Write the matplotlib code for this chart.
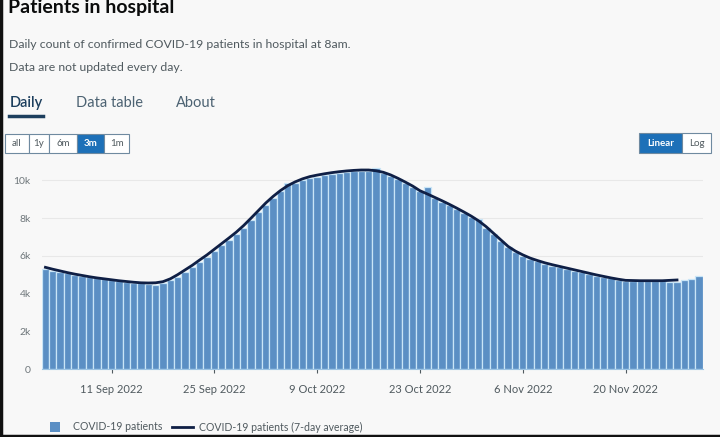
import matplotlib.pyplot as plt
import matplotlib.dates as mdates
from matplotlib.patches import Rectangle
from matplotlib.lines import Line2D
import pandas as pd

plt.rcParams["font.family"] = ["Lato", "DejaVu Sans"]

start_date = "2022-09-02"

# daily count of patients (2 Sep - 30 Nov 2022)
patients = [
    5300, 5220, 5150, 5070, 5000, 4930, 4860, 4800, 4750, 4700,
    4650, 4620, 4580, 4550, 4530, 4430, 4560, 4720, 4900, 5150,
    5400, 5680, 5950, 6250, 6550, 6850, 7150, 7500, 7900, 8300,
    8700, 9050, 9420, 9850, 9880, 10020, 10130, 10200, 10270, 10330,
    10400, 10450, 10480, 10500, 10520, 10660, 10400, 10250, 10050, 9850,
    9650, 9420, 9670, 9050, 8850, 8680, 8480, 8280, 8050, 7970,
    7500, 7150, 6800, 6450, 6200, 6000, 5830, 5700, 5580, 5480,
    5400, 5300, 5210, 5120, 5040, 4950, 4870, 4800, 4730, 4680,
    4660, 4650, 4660, 4650, 4640, 4630, 4620, 4700, 4780, 4910,
]

# 7-day average (ends 27 Nov)
avg_7day = [
    5390, 5290, 5200, 5110, 5030, 4960, 4890, 4830, 4780, 4730,
    4680, 4640, 4600, 4570, 4560, 4570, 4630, 4780, 5000, 5250,
    5500, 5780, 6050, 6350, 6650, 6950, 7260, 7610, 8000, 8400,
    8800, 9150, 9460, 9720, 9920, 10080, 10200, 10280, 10350, 10410,
    10460, 10500, 10530, 10550, 10550, 10510, 10430, 10290, 10110, 9910,
    9700, 9450, 9280, 9100, 8920, 8730, 8530, 8320, 8100, 7850,
    7550, 7200, 6850, 6500, 6250, 6050, 5880, 5750, 5630, 5530,
    5440, 5350, 5260, 5170, 5080, 4990, 4910, 4830, 4760, 4700,
    4690, 4680, 4680, 4680, 4680, 4700, 4720,
]

tick_dates = ["2022-09-11", "2022-09-25", "2022-10-09", "2022-10-23",
              "2022-11-06", "2022-11-20"]
y_ticks = [0, 2000, 4000, 6000, 8000, 10000]
y_labels = ["0", "2k", "4k", "6k", "8k", "10k"]

dates = pd.date_range(start_date, periods=len(patients))
avg_dates = dates[:len(avg_7day)]

bg = "#f8f8f8"
bar_col = "#5b8fc4"
line_col = "#0f1f45"

fig = plt.figure(figsize=(7.2, 4.37), dpi=100, facecolor=bg)
ax = fig.add_axes([0.058, 0.1556, 0.918, 0.4705], facecolor=bg)

ax.bar(dates, patients, width=1.0, color=bar_col, edgecolor="#c9e5f7",
       linewidth=0.9, zorder=2)
ax.plot(avg_dates, avg_7day, color=line_col, linewidth=2, zorder=3)

ax.set_xlim(dates[0] - pd.Timedelta(hours=12), dates[-1] + pd.Timedelta(hours=12))
ax.set_ylim(0, 10900)
ax.set_yticks(y_ticks)
ax.set_yticklabels(y_labels)
ax.set_xticks(pd.to_datetime(tick_dates))
ax.xaxis.set_major_formatter(mdates.DateFormatter("%-d %b %Y"))
ax.grid(axis="y", color="#e8e8e8", linewidth=0.8, zorder=0)
for s in ["top", "right", "left"]:
    ax.spines[s].set_visible(False)
ax.spines["bottom"].set_color("#9cc4e4")
ax.tick_params(axis="y", length=0, labelsize=7.5, labelcolor="#6f777b", pad=8)
ax.tick_params(axis="x", length=3, color="#505a5f", labelsize=8,
               labelcolor="#505a5f", pad=8)

# header (cut off at the top, as in the screenshot)
fig.text(0.011, 0.983, "Patients in hospital", fontsize=14, fontweight="bold",
         color="#0b0c0c", va="center")
fig.text(0.013, 0.899, "Daily count of confirmed COVID-19 patients in hospital at 8am.",
         fontsize=8.8, color="#505a5f", va="center")
fig.text(0.013, 0.846, "Data are not updated every day.",
         fontsize=8.8, color="#505a5f", va="center")

# tabs
fig.text(0.013, 0.764, "Daily", fontsize=10.5, color="#1d3f5e", va="center",
         fontweight="semibold")
fig.text(0.105, 0.764, "Data table", fontsize=10.5, color="#4c6272", va="center")
fig.text(0.245, 0.764, "About", fontsize=10.5, color="#4c6272", va="center")
fig.add_artist(Line2D([0.013, 0.06], [0.735, 0.735], color="#1d3f5e",
                      linewidth=2.5, transform=fig.transFigure))

# range buttons
def button_group(labels, edges, y0, y1, selected):
    for i, lab in enumerate(labels):
        x0, x1 = edges[i] / 720, edges[i + 1] / 720
        fc = "#1d70b8" if i == selected else "white"
        tc = "white" if i == selected else "#505a5f"
        fig.add_artist(Rectangle((x0, y0 / 437), x1 - x0, (y1 - y0) / 437,
                                 facecolor=fc, edgecolor="#6f8aa0", linewidth=0.8,
                                 transform=fig.transFigure))
        fig.text((x0 + x1) / 2, (y0 + y1) / 2 / 437, lab, fontsize=7,
                 color=tc, ha="center", va="center",
                 fontweight="bold" if i == selected else "normal")

button_group(["all", "1y", "6m", "3m", "1m"], [5, 29, 49, 77, 104, 129],
             437 - 153, 437 - 134, 3)
button_group(["Linear", "Log"], [639, 682, 711], 437 - 153, 437 - 133, 0)

# legend
fig.add_artist(Rectangle((50 / 720, 1 - 432 / 437), 10 / 720, 10 / 437,
                         facecolor=bar_col, transform=fig.transFigure))
fig.text(73 / 720, 1 - 427 / 437, "COVID-19 patients", fontsize=7.6,
         color="#505a5f", va="center")
fig.add_artist(Line2D([172 / 720, 193 / 720], [1 - 427 / 437, 1 - 427 / 437],
                      color=line_col, linewidth=2, transform=fig.transFigure))
fig.text(199 / 720, 1 - 427 / 437, "COVID-19 patients (7-day average)",
         fontsize=7.6, color="#505a5f", va="center")

# screenshot frame edges
fig.add_artist(Line2D([0.001, 0.001], [0, 1], color="#111111", linewidth=2.5,
                      transform=fig.transFigure))
fig.add_artist(Line2D([0, 1], [0.003, 0.003], color="#111111", linewidth=2.5,
                      transform=fig.transFigure))

fig.savefig("out.png", dpi=100, facecolor=bg)
